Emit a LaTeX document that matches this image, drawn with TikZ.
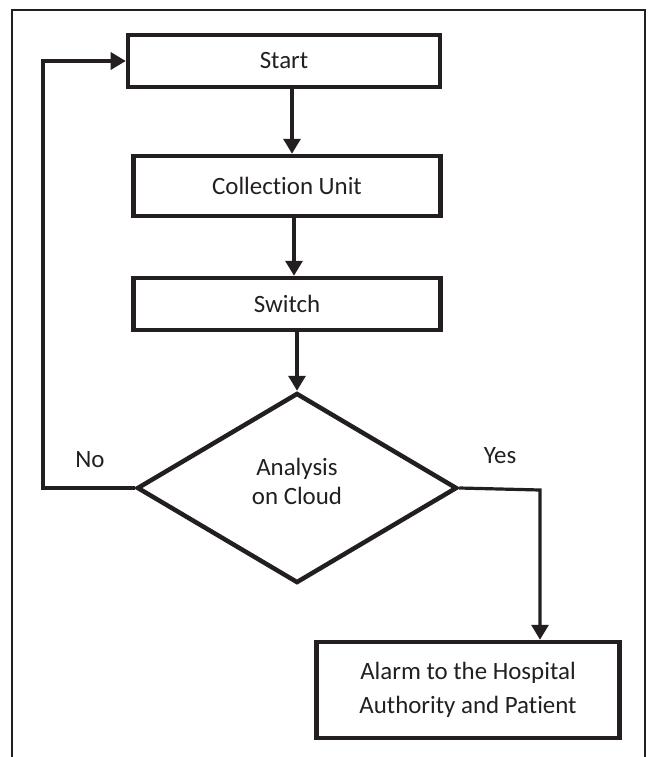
\documentclass[tikz,border=0pt]{standalone}
\usepackage{fontspec}
\setmainfont{Carlito}[Ligatures=NoCommon]
\usetikzlibrary{shapes.geometric,arrows.meta}

\definecolor{tinta}{RGB}{35,31,32}

\tikzset{
    caja/.style={draw=tinta,line width=4.5bp,rectangle,align=center,inner sep=0pt},
    rombo/.style={draw=tinta,line width=4.5bp,diamond,align=center,inner sep=0pt},
    flecha/.style={draw=tinta,line width=3.2bp,-{Triangle[length=15bp,width=17bp]}},
}

\begin{document}
\begin{tikzpicture}[
    x={(1bp,0bp)}, y={(0bp,-1bp)},
    every node/.style={font=\fontsize{25}{34}\selectfont,text=tinta}]
    % Marco y zona visible.
    \useasboundingbox (0,0) rectangle (649,757);
    \draw[tinta,line width=2bp] (12,757) -- (12,10) -- (645,10) -- (645,757);

    % Bloques del diagrama.
    \node[caja,minimum width=312bp,minimum height=52bp] (start) at (284,61) {Start};
    \node[caja,minimum width=307bp,minimum height=60bp] (collect) at (287,186) {Collection Unit};
    \node[caja,minimum width=307bp,minimum height=52bp] (switch) at (287,304) {Switch};
    \node[rombo,minimum width=320bp,minimum height=190bp,text depth=14bp,
        font=\fontsize{25}{29}\selectfont] (analysis) at (297,488) {Analysis\\on Cloud};
    \node[caja,minimum width=303bp,minimum height=96bp] (alarm) at (468,690)
        {Alarm to the Hospital\\Authority and Patient};

    % Flujo principal.
    \draw[flecha] (start.south -| 292,0) -- (collect.north -| 292,0);
    \draw[flecha] (collect.south -| 294,0) -- (switch.north -| 294,0);
    \draw[flecha] (switch.south -| analysis.north) -- (analysis.north);

    % Ramas de la decision.
    \coordinate (retorno) at (43,488);
    \coordinate (aviso) at (540,490);
    \draw[flecha] (analysis.west) -- (retorno) |- (start.west);
    \draw[flecha] (analysis.east) -- (aviso) -- (aviso |- alarm.north);

    % Etiquetas.
    \node (no) at (90,460) {No};
    \node (yes) at (500,456) {Yes};
\end{tikzpicture}
\end{document}
